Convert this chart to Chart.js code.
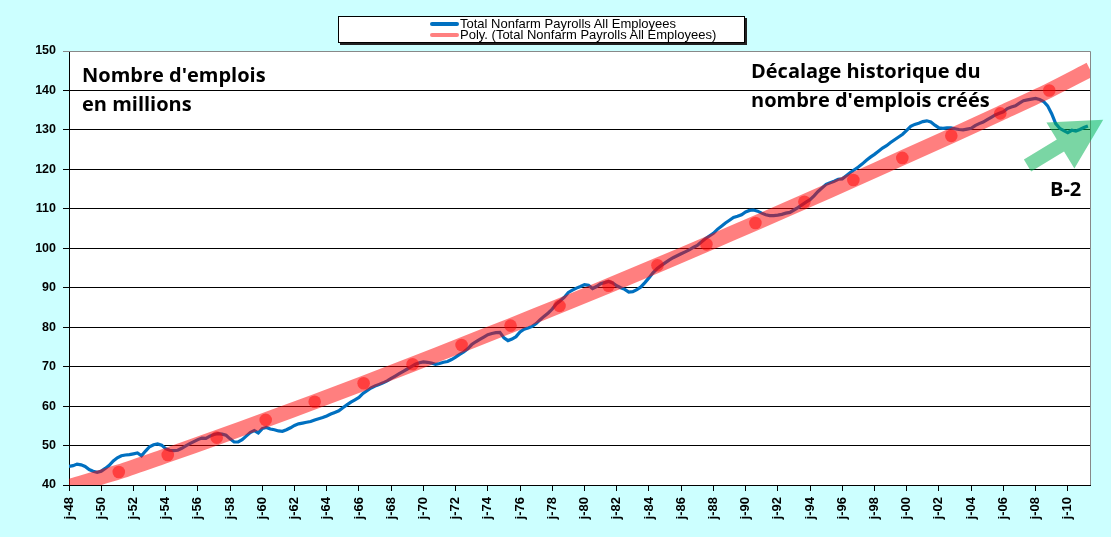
<!DOCTYPE html>
<html>
<head>
<meta charset="utf-8">
<script src="https://cdn.jsdelivr.net/npm/chart.js@4/dist/chart.umd.min.js"></script>
<style>
  html, body { margin: 0; padding: 0; background: #CCFFFF; }
  #wrap { position: relative; width: 1111px; height: 537px; overflow: hidden; }
  canvas { position: absolute; left: 0; top: 0; }
  .legend {
    position: absolute; left: 338px; top: 16px; width: 405px; height: 25px;
    background: #fff; border: 1px solid #000; box-shadow: 2px 2px 0 #222;
    font: 13px "Liberation Sans", Arial, sans-serif; color: #000;
  }
  .legend .row { position: absolute; left: 91px; height: 11px; line-height: 11px; white-space: nowrap; }
  .legend .swatch { display: inline-block; width: 29px; height: 4px; border-radius: 2px; vertical-align: middle; margin-right: 1px; position: relative; top: -1px; }
  .note { position: absolute; font: bold 20px "Open Sans", Lato, sans-serif; color: #000; line-height: 29px; white-space: nowrap; }
</style>
</head>
<body>
<div id="wrap">
  <canvas id="payrolls" width="1111" height="537"></canvas>
  <div class="legend">
    <div class="row" style="top:1px"><span class="swatch" style="background:#0070C0"></span>Total Nonfarm Payrolls All Employees</div>
    <div class="row" style="top:12px"><span class="swatch" style="background:#FF8080"></span>Poly. (Total Nonfarm Payrolls All Employees)</div>
  </div>
  <div class="note" style="left:82px; top:60px">Nombre d'emplois<br>en millions</div>
  <div class="note" style="left:751px; top:56px">Décalage historique du<br>nombre d'emplois créés</div>
  <div class="note" style="left:1050px; top:174px">B-2</div>
</div>
<script>
// monthly payrolls sampled every quarter (Jan, Apr, Jul, Oct), millions
const payrollStartYear = 1948;
const payrollQuarterly = [
  44.7, 44.9, 45.3, 45.1,   // 1948
  44.7, 43.9, 43.5, 43.2,
  43.5, 44.2, 45.0, 46.1,   // 1950
  46.9, 47.4, 47.6, 47.7,
  47.9, 48.1, 47.4, 48.6,
  49.7, 50.2, 50.4, 50.1,
  49.2, 48.8, 48.7, 48.8,
  49.3, 49.9, 50.5, 51.0,
  51.5, 51.9, 51.8, 52.4,
  52.8, 53.0, 52.9, 52.6,
  51.7, 50.9, 50.9, 51.5,
  52.4, 53.3, 53.8, 53.2,
  54.3, 54.6, 54.2, 54.0,   // 1960
  53.7, 53.6, 54.0, 54.5,
  55.1, 55.5, 55.7, 55.9,
  56.1, 56.5, 56.8, 57.1,
  57.5, 58.0, 58.4, 58.8,
  59.6, 60.3, 61.0, 61.6,
  62.2, 63.2, 63.9, 64.6,
  65.1, 65.5, 65.9, 66.4,
  67.0, 67.6, 68.2, 68.8,
  69.4, 70.0, 70.6, 71.0,
  71.2, 71.1, 70.9, 70.6,   // 1970
  70.8, 71.1, 71.3, 71.8,
  72.4, 73.1, 73.7, 74.5,
  75.6, 76.3, 76.9, 77.5,
  78.1, 78.4, 78.6, 78.7,
  77.3, 76.6, 77.0, 77.6,
  78.8, 79.5, 79.8, 80.2,
  80.9, 81.9, 82.8, 83.6,
  84.6, 85.9, 86.7, 87.6,
  88.8, 89.4, 89.9, 90.3,
  90.8, 90.6, 89.8, 90.3,   // 1980
  91.0, 91.3, 91.6, 91.2,
  90.5, 90.0, 89.6, 88.9,
  89.0, 89.5, 90.2, 91.3,
  92.5, 93.8, 94.8, 95.6,
  96.3, 97.0, 97.6, 98.1,
  98.6, 99.1, 99.6, 100.2,
  100.7, 101.6, 102.4, 103.1,
  103.8, 104.8, 105.6, 106.4,
  107.1, 107.8, 108.1, 108.5,
  109.2, 109.6, 109.7, 109.4, // 1990
  108.9, 108.5, 108.3, 108.3,
  108.4, 108.6, 108.9, 109.1,
  109.7, 110.3, 111.0, 111.7,
  112.3, 113.3, 114.4, 115.3,
  116.2, 116.6, 117.0, 117.5,
  117.6, 118.4, 119.2, 119.9,
  120.6, 121.4, 122.3, 123.1,
  123.8, 124.6, 125.4, 126.0,
  126.8, 127.5, 128.2, 128.9,
  129.9, 130.9, 131.4, 131.7, // 2000
  132.1, 132.3, 132.0, 131.2,
  130.5, 130.4, 130.5, 130.5,
  130.3, 130.1, 130.0, 130.2,
  130.4, 131.1, 131.6, 132.0,
  132.6, 133.2, 133.8, 134.2,
  134.6, 135.4, 135.8, 136.1,
  136.8, 137.4, 137.6, 137.8,
  138.0, 137.7, 137.2, 136.1,
  134.1, 131.6, 130.4, 129.8,
  129.3, 129.9, 129.7, 130.1, // 2010
  130.6, 131.0
];

// polynomial trend, read at its marker dots plus both ends
const trendYears  = [1948.0, 1951.09, 1954.13, 1957.17, 1960.21, 1963.25, 1966.29, 1969.33, 1972.37,
                     1975.41, 1978.45, 1981.49, 1984.53, 1987.57, 1990.61, 1993.65, 1996.69, 1999.73,
                     2002.77, 2005.81, 2008.85, 2011.38];
const trendValues = [39.6, 43.3, 47.6, 52.0, 56.5, 61.1, 65.8, 70.6, 75.5,
                     80.4, 85.4, 90.5, 95.7, 101.0, 106.4, 111.8, 117.3, 122.9,
                     128.5, 134.2, 140.0, 145.3];

const tickYears  = [1948, 1950, 1952, 1954, 1956, 1958, 1960, 1962, 1964, 1966, 1968, 1970, 1972, 1974, 1976, 1978,
                    1980, 1982, 1984, 1986, 1988, 1990, 1992, 1994, 1996, 1998, 2000, 2002, 2004, 2006, 2008, 2010];
const tickLabels = ['j-48', 'j-50', 'j-52', 'j-54', 'j-56', 'j-58', 'j-60', 'j-62', 'j-64', 'j-66', 'j-68', 'j-70',
                    'j-72', 'j-74', 'j-76', 'j-78', 'j-80', 'j-82', 'j-84', 'j-86', 'j-88', 'j-90', 'j-92', 'j-94',
                    'j-96', 'j-98', 'j-00', 'j-02', 'j-04', 'j-06', 'j-08', 'j-10'];

const xMin = 1948, xMax = 2011.38;
const yMin = 40, yMax = 150, yStep = 10;

const payrollPoints = payrollQuarterly.map((v, i) => ({ x: payrollStartYear + i / 4, y: v }));
const trendPoints = trendYears.map((yr, i) => ({ x: yr, y: trendValues[i] }));

// white plot area, grey frame on top/right, green arrow on top
const plotFrame = {
  id: 'plotFrame',
  beforeDraw(chart) {
    const { ctx, chartArea: a } = chart;
    ctx.save();
    ctx.fillStyle = '#fff';
    ctx.fillRect(a.left, a.top, a.right - a.left, a.bottom - a.top);
    ctx.restore();
  },
  afterDatasetsDraw(chart) {
    const { ctx, chartArea: a, scales } = chart;
    ctx.save();
    ctx.strokeStyle = '#888';
    ctx.lineWidth = 1;
    ctx.beginPath();
    ctx.moveTo(a.left, a.top + 0.5);
    ctx.lineTo(a.right + 0.5, a.top + 0.5);
    ctx.lineTo(a.right + 0.5, a.bottom);
    ctx.stroke();

    // recovery arrow
    const tx = scales.x.getPixelForValue(2007.5), ty = scales.y.getPixelForValue(121.0);
    const hx = scales.x.getPixelForValue(2012.2), hy = scales.y.getPixelForValue(132.6);
    const ang = Math.atan2(hy - ty, hx - tx);
    const len = Math.hypot(hx - tx, hy - ty);
    ctx.translate(tx, ty);
    ctx.rotate(ang);
    const headLen = 50, headHalf = 27, shaftHalf = 7;
    ctx.beginPath();
    ctx.moveTo(0, -shaftHalf);
    ctx.lineTo(len - headLen, -shaftHalf);
    ctx.lineTo(len - headLen, -headHalf);
    ctx.lineTo(len, 0);
    ctx.lineTo(len - headLen, headHalf);
    ctx.lineTo(len - headLen, shaftHalf);
    ctx.lineTo(0, shaftHalf);
    ctx.closePath();
    ctx.fillStyle = 'rgba(0,176,80,0.52)';
    ctx.fill();
    ctx.restore();
  }
};

new Chart(document.getElementById('payrolls'), {
  type: 'line',
  data: {
    datasets: [
      {
        label: 'Total Nonfarm Payrolls All Employees',
        data: payrollPoints,
        borderColor: '#0070C0',
        borderWidth: 3.2,
        pointRadius: 0,
        tension: 0,
        clip: 0,
        order: 2
      },
      {
        label: 'Poly. (Total Nonfarm Payrolls All Employees)',
        data: trendPoints,
        borderColor: 'rgba(255,0,0,0.5)',
        borderWidth: 15,
        borderCapStyle: 'butt',
        pointRadius: trendYears.map((_, i) => (i === 0 || i === trendYears.length - 1) ? 0 : 6.3),
        pointBackgroundColor: 'rgba(255,0,0,0.5)',
        pointBorderWidth: 0,
        tension: 0.3,
        clip: 0,
        order: 1
      }
    ]
  },
  options: {
    responsive: false,
    animation: false,
    layout: { padding: { left: 0, right: 21, top: 51, bottom: 0 } },
    plugins: {
      legend: { display: false },
      tooltip: { enabled: false }
    },
    scales: {
      x: {
        type: 'linear',
        min: xMin,
        max: xMax,
        afterBuildTicks: (s) => { s.ticks = tickYears.map(v => ({ value: v })); },
        afterFit: (s) => { s.height = 52; },
        ticks: {
          autoSkip: false,
          minRotation: 90,
          maxRotation: 90,
          padding: 6,
          color: '#000',
          font: { family: '"Liberation Sans", Arial, sans-serif', size: 13, weight: 'bold' },
          callback: (v) => tickLabels[tickYears.indexOf(v)]
        },
        grid: { drawOnChartArea: false, drawTicks: true, tickLength: 6, color: '#000' },
        border: { color: '#000', width: 1 }
      },
      y: {
        min: yMin,
        max: yMax,
        afterFit: (s) => { s.width = 69; },
        ticks: {
          stepSize: yStep,
          padding: 7,
          color: '#000',
          font: { family: '"Liberation Sans", Arial, sans-serif', size: 12.5, weight: 'bold' }
        },
        grid: {
          color: (c) => c.tick && c.tick.value === yMax ? '#888' : '#000',
          lineWidth: 1,
          tickLength: 6
        },
        border: { color: '#000', width: 1 }
      }
    }
  },
  plugins: [plotFrame]
});
</script>
</body>
</html>
